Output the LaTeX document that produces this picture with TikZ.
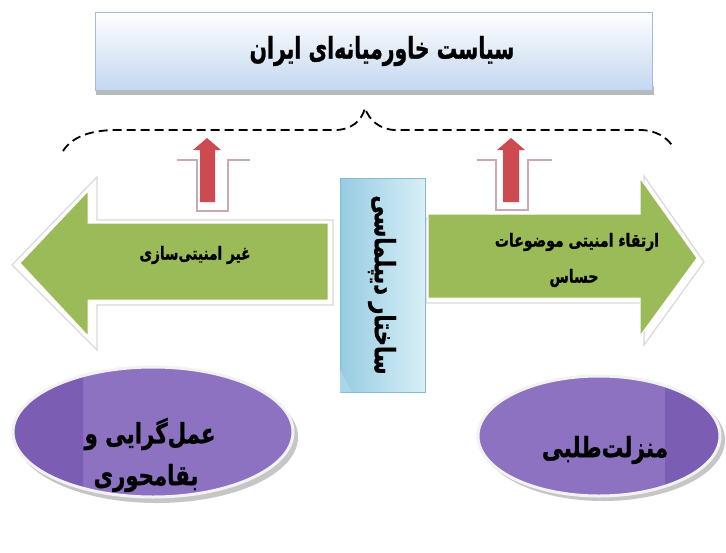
\documentclass[tikz,border=0pt]{standalone}
\usepackage{fontspec}
\newfontfamily\arabicbold[Script=Arabic, FakeBold=1.2]{DejaVu Sans Bold}
\TeXXeTstate=1
\definecolor{boxblue}{HTML}{C3D7EF}
\definecolor{boxedge}{HTML}{A9BEDA}
\definecolor{arrgreen}{HTML}{9BBB59}
\definecolor{arrred}{HTML}{CD4A50}
\definecolor{pinkframe}{HTML}{C9AAB2}
\definecolor{cboxL}{HTML}{96CCE0}
\definecolor{cboxR}{HTML}{D8EFF7}
\definecolor{cboxedge}{HTML}{86BCD2}
\definecolor{purp}{HTML}{8D72C2}
\definecolor{purpdark}{HTML}{7B5EB4}
\tikzset{
  ar/.style={font=\arabicbold\fontsize{#1}{#1}\selectfont, inner sep=0pt, align=center},
  frame/.style={fill=white, draw=gray!30, line width=1.2pt},
  garrow/.style={fill=arrgreen, draw=white, line width=1pt},
  rarrow/.style={fill=arrred},
  rframe/.style={draw=pinkframe, line width=2.5pt},
  brace/.style={line width=1.8pt, dash pattern=on 9pt off 5pt},
  oval/.style={fill=purp},
  ovalrim/.style={draw=white!90!gray, line width=3pt},
  ovalshadow/.style={fill=gray!45}
}
\begin{document}
\begin{tikzpicture}[x=1pt,y=-1pt]
\useasboundingbox (0,0) rectangle (726,552);
\fill[white] (0,0) rectangle (726,552);

% top title box
\fill[gray!55] (96,86) rectangle (654,95);
\shade[top color=white, bottom color=boxblue, draw=boxedge, line width=1pt] (95,12) rectangle (652,90);
\node[ar=30] (title) at (382,51) {\scalebox{0.68}[1]{\beginR سیاست خاورمیانه‌ای ایران\endR}};

% dashed brace
\draw[brace] (63,151) .. controls (72,137) and (90,130) .. (117,130) -- (335,130)
  .. controls (352,130) and (362,120) .. (365,108)
  .. controls (369,120) and (380,130) .. (396,130) -- (640,130)
  .. controls (656,130) and (668,138) .. (673,147);

% green arrows (frames first)
\path[frame] (12,265) -- (97,177) -- (97,220) -- (333,220) -- (333,305) -- (97,305) -- (97,350) -- cycle;
\path[garrow] (20,263) -- (88,191) -- (88,223) -- (328,223) -- (328,300) -- (88,300) -- (88,336) -- cycle;
\node[ar=18] (lefttext) at (195,255) {\scalebox{0.76}[1]{\beginR غیر امنیتی‌سازی\endR}};

\path[frame] (426,218) -- (644,218) -- (644,176) -- (704,262) -- (644,345) -- (644,303) -- (426,303) -- cycle;
\path[garrow] (428,214) -- (640,214) -- (640,178) -- (697,258) -- (640,336) -- (640,298) -- (428,298) -- cycle;
\node[ar=18] (righttext1) at (577,242) {\scalebox{0.78}[1]{\beginR ارتقاء امنیتی موضوعات\endR}};
\node[ar=18] (righttext2) at (574,278) {\scalebox{0.78}[1]{\beginR حساس\endR}};

% red up arrows with pink frames
\draw[rframe] (177,160) -- (197,160) -- (197,211) -- (228,211) -- (228,160) -- (250,160);
\path[rarrow] (200,202) -- (200,150) -- (193,150) -- (207,138) -- (221,150) -- (215,150) -- (215,202) -- cycle;
\draw[rframe] (477,160) -- (496,160) -- (496,210) -- (528,210) -- (528,160) -- (552,160);
\path[rarrow] (503,202) -- (503,150) -- (497,150) -- (511,138) -- (525,150) -- (519,150) -- (519,202) -- cycle;

% central vertical box
\shade[left color=cboxL, right color=cboxR, draw=cboxedge, line width=1pt] (340,178) rectangle (425,392);
\fill[cboxL!80!white] (340,370) -- (352,392) -- (340,392) -- cycle;
\node[ar=28, rotate=-90] (center) at (382,285) {\scalebox{0.75}[1]{\beginR ساختار دیپلماسی\endR}};

% purple ovals
\fill[ovalshadow] (157,437) ellipse [x radius=141, y radius=66];
\path[oval] (153,432) ellipse [x radius=140, y radius=65];
\begin{scope}
  \clip (0,300) rectangle (83,552);
  \fill[purpdark] (153,432) ellipse [x radius=140, y radius=65];
\end{scope}
\path[ovalrim] (153,432) ellipse [x radius=140, y radius=65];
\node[ar=28] (lefttop) at (150,434) {\scalebox{0.76}[1]{\beginR عمل‌گرایی و\endR}};
\node[ar=28] (leftbot) at (146,478) {\scalebox{0.76}[1]{\beginR بقامحوری\endR}};

\fill[ovalshadow] (603,440) ellipse [x radius=122, y radius=61];
\path[oval] (599,436) ellipse [x radius=121, y radius=60];
\begin{scope}
  \clip (665,300) rectangle (726,552);
  \fill[purpdark] (599,436) ellipse [x radius=121, y radius=60];
\end{scope}
\path[ovalrim] (599,436) ellipse [x radius=121, y radius=60];
\node[ar=28] (righto) at (605,450) {\scalebox{0.77}[1]{\beginR منزلت‌طلبی\endR}};
\end{tikzpicture}
\end{document}
